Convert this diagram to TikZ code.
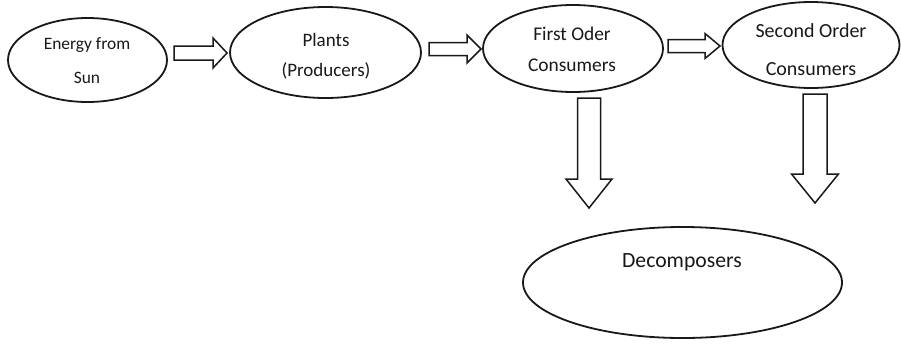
\documentclass[tikz,border=0pt]{standalone}
\usepackage{fontspec}
\setmainfont{Carlito}
\usetikzlibrary{shapes.geometric}
\tikzset{
  eline/.style={draw=black!90, line width=1.8pt},
  aline/.style={draw=black!90, line width=1.5pt, line join=miter, fill=white},
  lbl/.style={inner sep=0pt, text=black!90, align=center}
}
\newcommand{\harrowshape}[6]{% tail x, head base x, tip x, center y, shaft half, head half
  \draw[aline] (#1,#4-#5) -- (#2,#4-#5) -- (#2,#4-#6) -- (#3,#4) -- (#2,#4+#6) -- (#2,#4+#5) -- (#1,#4+#5) -- cycle;}
\newcommand{\varrowshape}[6]{% top y, head base y, tip y, center x, shaft half, head half
  \draw[aline] (#4-#5,#1) -- (#4-#5,#2) -- (#4-#6,#2) -- (#4,#3) -- (#4+#6,#2) -- (#4+#5,#2) -- (#4+#5,#1) -- cycle;}
\begin{document}
\begin{tikzpicture}[x=1pt,y=-1pt]
\useasboundingbox[fill=white] (0,0) rectangle (901,343);
% ellipses
\draw[eline] (87.5,60) ellipse [x radius=79.5, y radius=42];
\draw[eline] (325.5,52.5) ellipse [x radius=95.5, y radius=45.5];
\draw[eline] (573,48.5) ellipse [x radius=90, y radius=43.5];
\draw[eline] (811,45) ellipse [x radius=88.5, y radius=43];
\draw[eline] (682.5,282.5) ellipse [x radius=159.5, y radius=55.5];
% texts
\node[lbl, font=\fontsize{17.4}{34}\selectfont] (sun) at (87,61) {Energy from\\Sun};
\node[lbl, font=\fontsize{19}{30}\selectfont] (plants) at (326,56) {Plants\\(Producers)};
\node[lbl, font=\fontsize{19.4}{31}\selectfont] (first) at (572,49) {First Oder\\Consumers};
\node[lbl, font=\fontsize{20}{38}\selectfont] (second) at (811,50) {Second Order\\Consumers};
\node[lbl, font=\fontsize{21.7}{26}\selectfont] (decomp) at (682,262) {Decomposers};
% horizontal block arrows
\harrowshape{174}{213}{227}{53}{7}{15}
\harrowshape{429}{467}{481}{49}{6.5}{14}
\harrowshape{668}{705}{720}{46}{6.5}{12.5}
% vertical block arrows
\varrowshape{98}{179}{208}{589}{11.5}{23}
\varrowshape{94}{174}{203}{815}{12}{23.5}
\end{tikzpicture}
\end{document}
